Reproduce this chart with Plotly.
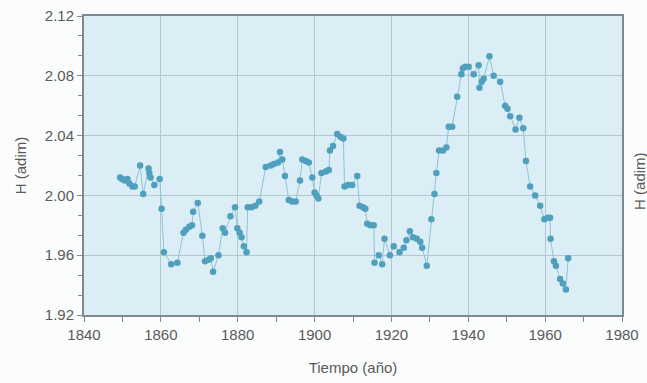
import plotly.graph_objects as go

# Annual mean of H (dimensionless) against year
years = [
    1849.4, 1849.9, 1850.6, 1851.3, 1851.8, 1852.6, 1853.2, 1854.6, 1855.4, 1856.8,
    1857.0, 1857.3, 1858.3, 1859.7, 1860.2, 1860.8, 1862.7, 1864.3, 1865.9, 1866.5,
    1867.4, 1868.1, 1868.4, 1869.6, 1870.8, 1871.5, 1872.4, 1873.0, 1873.6, 1875.0,
    1876.1, 1876.7, 1878.1, 1879.3, 1879.9, 1880.5, 1881.0, 1881.6, 1882.3, 1882.6,
    1883.6, 1884.6, 1885.6, 1887.3, 1888.6, 1889.4, 1890.5, 1891.0, 1891.6, 1892.3,
    1893.3, 1894.2, 1895.1, 1896.2, 1896.8, 1897.7, 1898.5, 1899.4, 1900.0, 1900.5,
    1901.0, 1901.8, 1902.9, 1903.7, 1904.0, 1904.8, 1905.9, 1906.8, 1907.5, 1907.8,
    1908.7, 1909.8, 1911.1, 1911.7, 1912.6, 1913.2, 1913.7, 1914.5, 1915.4, 1915.6,
    1916.7, 1917.6, 1918.2, 1919.6, 1920.6, 1922.1, 1923.2, 1923.9, 1924.8, 1925.6,
    1926.6, 1927.5, 1928.0, 1929.2, 1930.4, 1931.2, 1931.7, 1932.4, 1933.4, 1934.3,
    1934.9, 1935.8, 1937.1, 1938.2, 1938.6, 1939.2, 1940.1, 1941.4, 1942.7, 1942.9,
    1943.5, 1944.0, 1945.5, 1946.6, 1948.3, 1949.6, 1950.2, 1950.9, 1952.3, 1953.3,
    1954.3, 1955.0, 1956.1, 1957.4, 1958.7, 1959.8, 1960.7, 1961.3, 1961.4, 1962.3,
    1962.8, 1963.9, 1964.6, 1965.4, 1966.0,
]
h_values = [
    2.012, 2.011, 2.010, 2.011, 2.008, 2.006, 2.006, 2.020, 2.001, 2.018,
    2.015, 2.012, 2.007, 2.011, 1.991, 1.962, 1.954, 1.955, 1.975, 1.977,
    1.979, 1.980, 1.989, 1.995, 1.973, 1.956, 1.957, 1.958, 1.949, 1.960,
    1.978, 1.975, 1.986, 1.992, 1.978, 1.975, 1.972, 1.966, 1.962, 1.992,
    1.992, 1.993, 1.996, 2.019, 2.020, 2.021, 2.022, 2.029, 2.024, 2.013,
    1.997, 1.996, 1.996, 2.010, 2.024, 2.023, 2.022, 2.012, 2.002, 2.000,
    1.998, 2.015, 2.016, 2.017, 2.030, 2.033, 2.041, 2.039, 2.038, 2.006,
    2.007, 2.007, 2.013, 1.993, 1.992, 1.991, 1.981, 1.980, 1.980, 1.955,
    1.960, 1.954, 1.971, 1.960, 1.966, 1.962, 1.965, 1.970, 1.976, 1.972,
    1.971, 1.969, 1.965, 1.953, 1.984, 2.001, 2.015, 2.030, 2.030, 2.032,
    2.046, 2.046, 2.066, 2.081, 2.085, 2.086, 2.086, 2.081, 2.087, 2.072,
    2.076, 2.078, 2.093, 2.080, 2.076, 2.060, 2.058, 2.053, 2.044, 2.052,
    2.045, 2.023, 2.006, 2.000, 1.993, 1.984, 1.985, 1.985, 1.971, 1.956,
    1.953, 1.944, 1.941, 1.937, 1.958,
]

x_ticks = [1840, 1860, 1880, 1900, 1920, 1940, 1960, 1980]
y_ticks = [1.92, 1.96, 2.00, 2.04, 2.08, 2.12]
y_tick_text = ["1.92", "1.96", "2.00", "2.04", "2.08", "2.12"]

FONT = "Liberation Sans, Arial, sans-serif"
TEXT_GREY = "#5a5a5a"
AXIS_GREY = "#7f8a90"

fig = go.Figure()
fig.add_trace(go.Scatter(
    x=years, y=h_values,
    mode="lines+markers",
    line=dict(color="#8cc4d8", width=1),
    marker=dict(color="#4f9fbd", size=6.5, line=dict(width=0)),
    showlegend=False,
))

axis_common = dict(
    showline=True, linecolor=AXIS_GREY, linewidth=2, mirror=True,
    gridcolor="#b4c6cf", gridwidth=1,
    ticks="outside", tickcolor=AXIS_GREY, ticklen=5, tickwidth=1,
    tickfont=dict(family=FONT, size=15, color=TEXT_GREY),
    zeroline=False, automargin=False,
)

fig.update_xaxes(
    range=[1840, 1980], tickvals=x_ticks,
    minor=dict(dtick=10, tick0=1840, ticks="outside", ticklen=5, tickcolor=AXIS_GREY, showgrid=False),
    title=dict(text="Tiempo (año)", standoff=20, font=dict(family=FONT, size=15, color=TEXT_GREY)),
    **axis_common,
)
fig.update_yaxes(
    range=[1.92, 2.12], tickvals=y_ticks, ticktext=y_tick_text,
    minor=dict(dtick=0.04 / 3, tick0=1.92, ticks="outside", ticklen=4, tickcolor=AXIS_GREY, showgrid=False),
    title=dict(text="H (adim)", standoff=15, font=dict(family=FONT, size=15, color=TEXT_GREY)),
    **axis_common,
)

# second axis caption on the right edge
fig.add_annotation(
    x=1.052, y=0.45, xref="paper", yref="paper",
    text="H (adim)", textangle=-90, showarrow=False,
    font=dict(family=FONT, size=15, color=TEXT_GREY),
)

fig.update_layout(
    width=647, height=383,
    margin=dict(l=84, r=25, t=16, b=68),
    plot_bgcolor="#dbeef6",
    paper_bgcolor="#fbfcfc",
)

fig.write_html("out.html")
